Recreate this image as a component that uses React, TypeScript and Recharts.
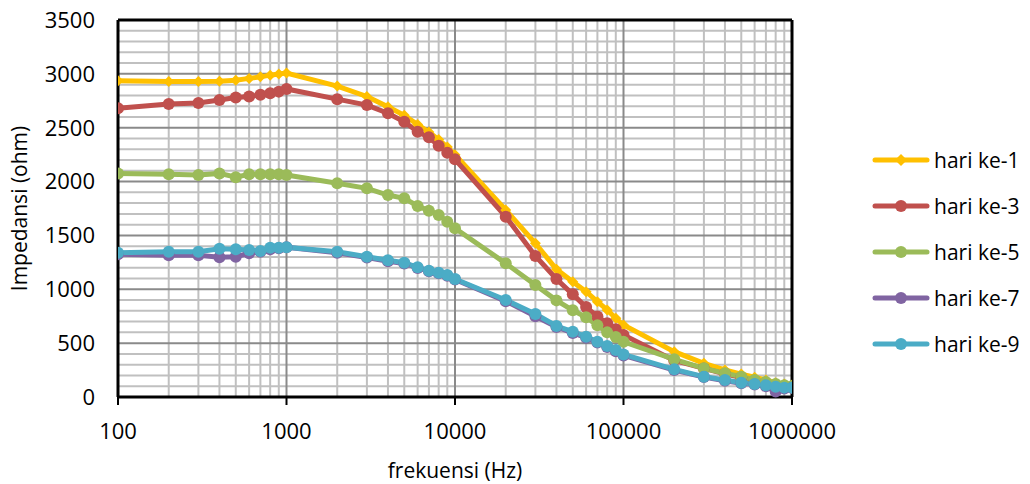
import React from 'react';
import { LineChart, Line, XAxis, YAxis, CartesianGrid, Label, ReferenceLine } from 'recharts';

const freq = [100, 200, 300, 400, 500, 600, 700, 800, 900, 1000, 2000, 3000, 4000, 5000, 6000, 7000, 8000, 9000, 10000, 20000, 30000, 40000, 50000, 60000, 70000, 80000, 90000, 100000, 200000, 300000, 400000, 500000, 600000, 700000, 800000, 900000, 1000000];
const hari1 = [2935, 2930, 2930, 2932, 2940, 2958, 2972, 2988, 2998, 3008, 2887, 2790, 2695, 2615, 2530, 2460, 2390, 2320, 2250, 1736, 1427, 1185, 1071, 978, 885, 808, 731, 668, 421, 313, 251, 213, 183, 158, 133, 121, 111];
const hari3 = [2680, 2720, 2730, 2757, 2780, 2790, 2805, 2820, 2835, 2860, 2765, 2710, 2635, 2555, 2463, 2411, 2333, 2268, 2207, 1674, 1309, 1095, 953, 835, 748, 684, 628, 576, 340, 265, 215, 180, 150, 130, 110, 95, 88];
const hari5 = [2076, 2067, 2061, 2076, 2040, 2067, 2067, 2067, 2067, 2061, 1984, 1937, 1875, 1845, 1773, 1730, 1690, 1628, 1566, 1241, 1040, 897, 805, 740, 665, 600, 557, 513, 350, 266, 220, 189, 158, 139, 120, 110, 100];
const hari7 = [1325, 1315, 1315, 1297, 1302, 1334, 1349, 1371, 1380, 1390, 1340, 1295, 1260, 1240, 1198, 1168, 1148, 1125, 1090, 890, 750, 650, 595, 550, 505, 465, 425, 385, 250, 185, 150, 128, 115, 100, 50, 80, 85];
const hari9 = [1340, 1349, 1349, 1377, 1371, 1365, 1355, 1386, 1386, 1390, 1349, 1302, 1270, 1247, 1204, 1173, 1154, 1133, 1096, 900, 770, 659, 606, 560, 513, 473, 436, 395, 257, 189, 158, 133, 121, 108, 96, 87, 87];

const seriesNames = ['hari ke-1', 'hari ke-3', 'hari ke-5', 'hari ke-7', 'hari ke-9'];
const seriesKeys = ['h1', 'h3', 'h5', 'h7', 'h9'];
const seriesColors = ['#FFC000', '#C0504D', '#9BBB59', '#8064A2', '#4BACC6'];

const xMajorTicks = [100, 1000, 10000, 100000, 1000000];
const xMinorTicks = [200, 300, 400, 500, 600, 700, 800, 900, 2000, 3000, 4000, 5000, 6000, 7000, 8000, 9000, 20000, 30000, 40000, 50000, 60000, 70000, 80000, 90000, 200000, 300000, 400000, 500000, 600000, 700000, 800000, 900000];
const yMajorTicks = [0, 500, 1000, 1500, 2000, 2500, 3000, 3500];
const yMinorTicks = [100, 200, 300, 400, 600, 700, 800, 900, 1100, 1200, 1300, 1400, 1600, 1700, 1800, 1900, 2100, 2200, 2300, 2400, 2600, 2700, 2800, 2900, 3100, 3200, 3300, 3400];

const data = freq.map((f, i) => ({ f, h1: hari1[i], h3: hari3[i], h5: hari5[i], h7: hari7[i], h9: hari9[i] }));

const FONT = '"Open Sans", "Noto Sans", sans-serif';

const Diamond = (props: any) => {
  const { cx, cy, fill } = props;
  if (cx == null || cy == null) return null;
  const s = 5.5;
  return <polygon points={`${cx},${cy - s} ${cx + s},${cy} ${cx},${cy + s} ${cx - s},${cy}`} fill={fill} />;
};

const LegendBox = () => (
  <div style={{ position: 'absolute', left: 872, top: 137, width: 158, fontFamily: FONT }}>
    {seriesNames.map((name, i) => (
      <div key={name} style={{ display: 'flex', alignItems: 'center', height: 46 }}>
        <svg width={58} height={20} style={{ display: 'block' }}>
          <line x1={3} y1={10} x2={55} y2={10} stroke={seriesColors[i]} strokeWidth={5} strokeLinecap="round" />
          {i === 0 ? (
            <polygon points="29,4 35,10 29,16 23,10" fill={seriesColors[i]} />
          ) : (
            <circle cx={29} cy={10} r={6} fill={seriesColors[i]} />
          )}
        </svg>
        <span style={{ fontSize: 21, color: '#000', marginLeft: 4, whiteSpace: 'nowrap' }}>{name}</span>
      </div>
    ))}
  </div>
);

export default function App() {
  return (
    <div style={{ position: 'absolute', left: 0, top: 0, width: 1030, height: 484, background: '#fff' }}>
      <LineChart width={1030} height={484} data={data} margin={{ top: 20, right: 238, left: 0, bottom: 0 }}>
        <CartesianGrid stroke="#c0c0c0" strokeWidth={2} verticalValues={xMinorTicks} horizontalValues={yMinorTicks} />
        <CartesianGrid stroke="#8a8a8a" strokeWidth={2} verticalValues={xMajorTicks} horizontalValues={yMajorTicks} />
        <XAxis
          dataKey="f"
          type="number"
          scale="log"
          domain={[100, 1000000]}
          ticks={xMajorTicks}
          interval={0}
          allowDataOverflow
          height={87}
          tickSize={8}
          tickMargin={18}
          axisLine={{ stroke: '#000', strokeWidth: 3 }}
          tickLine={{ stroke: '#000', strokeWidth: 2 }}
          tick={{ fontSize: 22, fill: '#000', fontFamily: FONT }}
        >
          <Label value="frekuensi (Hz)" position="center" dy={30} style={{ fontSize: 21, fill: '#000', fontFamily: FONT }} />
        </XAxis>
        <YAxis
          type="number"
          domain={[0, 3500]}
          ticks={yMajorTicks}
          interval={0}
          width={118}
          tickSize={0}
          tickMargin={23}
          tickLine={false}
          axisLine={{ stroke: '#000', strokeWidth: 3 }}
          tick={{ fontSize: 22, fill: '#000', fontFamily: FONT }}
        >
          <Label value="Impedansi (ohm)" angle={-90} position="center" dx={-39} style={{ fontSize: 21, fill: '#000', fontFamily: FONT, textAnchor: 'middle' }} />
        </YAxis>
        <ReferenceLine y={3500} stroke="#000" strokeWidth={3} />
        <ReferenceLine x={1000000} stroke="#000" strokeWidth={3} />
        {seriesKeys.map((k, i) => (
          <Line
            key={k}
            dataKey={k}
            name={seriesNames[i]}
            type="linear"
            stroke={seriesColors[i]}
            strokeWidth={5}
            isAnimationActive={false}
            dot={i === 0 ? (p: any) => <Diamond key={`d${p.index}`} {...p} fill={seriesColors[i]} /> : { r: 6, fill: seriesColors[i], stroke: 'none' }}
            activeDot={false}
          />
        ))}
      </LineChart>
      <LegendBox />
    </div>
  );
}
